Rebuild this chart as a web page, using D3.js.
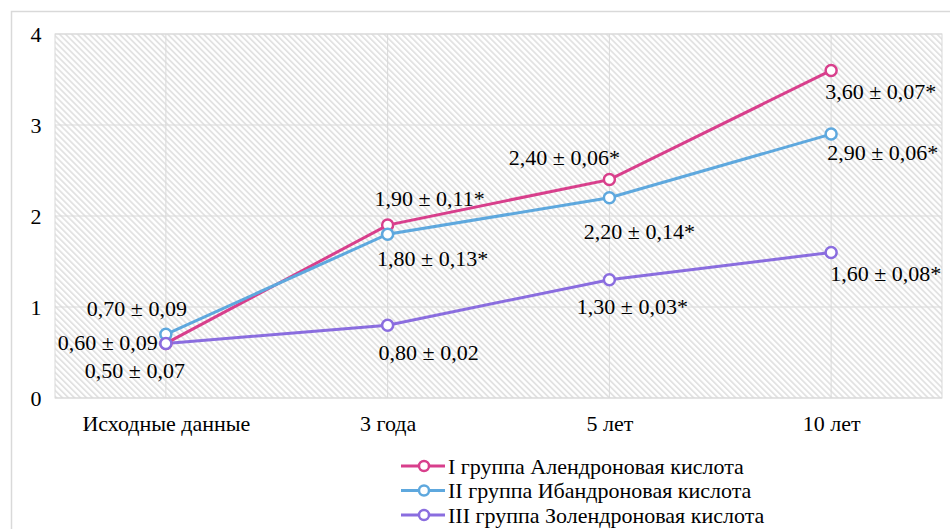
<!DOCTYPE html>
<html><head><meta charset="utf-8">
<script src="https://cdn.jsdelivr.net/npm/d3@7"></script>
<style>body{margin:0;background:#fff}svg{display:block}</style>
</head><body><svg id="c" width="950" height="529"></svg>
<script>
const categories = ["Исходные данные", "3 года", "5 лет", "10 лет"];
const seriesNames = ["I группа Алендроновая кислота", "II группа Ибандроновая кислота", "III группа Золендроновая кислота"];
const seriesI = [0.6, 1.9, 2.4, 3.6];
const seriesII = [0.7, 1.8, 2.2, 2.9];
const seriesIII = [0.6, 0.8, 1.3, 1.6];
const labelsI = ["0,60 ± 0,09", "1,90 ± 0,11*", "2,40 ± 0,06*", "3,60 ± 0,07*"];
const labelsII = ["0,70 ± 0,09", "1,80 ± 0,13*", "2,20 ± 0,14*", "2,90 ± 0,06*"];
const labelsIII = ["0,50 ± 0,07", "0,80 ± 0,02", "1,30 ± 0,03*", "1,60 ± 0,08*"];
const yTicks = [0, 1, 2, 3, 4];

const colors = ["#d83f8c", "#5ea8de", "#8a6ddf"];
// label placement (style): [dx, dy, anchor]
const place = [
  [[-8, -1, "end"], [42, -27, "middle"], [-45, -22, "middle"], [-6, 21, "start"]],
  [[-29, -26, "middle"], [45, 24, "middle"], [30, 34, "middle"], [-4, 18, "start"]],
  [[-31, 27, "middle"], [41, 27, "middle"], [23, 27, "middle"], [-1, 21, "start"]]
];

const svg = d3.select("#c");
const font = "'Liberation Serif','Times New Roman',serif";
const fs = 22;
svg.append("rect").attr("x", 11.5).attr("y", 11.5).attr("width", 950).attr("height", 540)
  .attr("fill", "#fff").attr("stroke", "#d9d9d9").attr("stroke-width", 1.5);

const L = 55, R = 942, T = 34, B = 398;
const x = d3.scalePoint().domain(categories).range([L, R]).padding(0.5);
const y = d3.scaleLinear().domain([0, 4]).range([B, T]);

const defs = svg.append("defs");
const pat = defs.append("pattern").attr("id", "hatch").attr("patternUnits", "userSpaceOnUse")
  .attr("width", 4.25).attr("height", 4.25).attr("patternTransform", "rotate(-45)");
pat.append("rect").attr("width", 4.25).attr("height", 4.25).attr("fill", "#fff");
pat.append("rect").attr("x", 0).attr("width", 1.8).attr("height", 4.25).attr("fill", "#e2e2e2");

svg.append("rect").attr("x", L).attr("y", T).attr("width", R - L).attr("height", B - T)
  .attr("fill", "url(#hatch)").attr("stroke", "#d9d9d9").attr("stroke-width", 1);

// gridlines
svg.append("g").selectAll("line").data(yTicks).join("line")
  .attr("x1", L).attr("x2", R).attr("y1", d => y(d)).attr("y2", d => y(d))
  .attr("stroke", "#d9d9d9").attr("stroke-width", 1);
svg.append("g").selectAll("line").data(categories).join("line")
  .attr("x1", d => x(d)).attr("x2", d => x(d)).attr("y1", T).attr("y2", B)
  .attr("stroke", "#d9d9d9").attr("stroke-width", 1);

// axes
const yAxis = svg.append("g").attr("transform", `translate(${L},0)`)
  .call(d3.axisLeft(y).tickValues(yTicks).tickFormat(d3.format("d")).tickSize(0).tickPadding(19));
yAxis.select(".domain").remove();
yAxis.selectAll("text").attr("font-family", font).attr("font-size", fs).attr("fill", "#000")
  .attr("text-anchor", "middle").attr("dy", null).attr("dominant-baseline", "central");

const xAxis = svg.append("g").attr("transform", `translate(0,${B})`)
  .call(d3.axisBottom(x).tickSize(0).tickPadding(0));
xAxis.select(".domain").remove();
xAxis.selectAll("text").attr("font-family", font).attr("font-size", fs).attr("fill", "#000")
  .attr("dy", null).attr("y", 25).attr("dominant-baseline", "central");

const allSeries = [seriesI, seriesII, seriesIII];
const allLabels = [labelsI, labelsII, labelsIII];
const line = d3.line().x((d, i) => x(categories[i])).y(d => y(d));

allSeries.forEach((s, k) => {
  svg.append("path").datum(s).attr("d", line).attr("fill", "none")
    .attr("stroke", colors[k]).attr("stroke-width", 3);
});
allSeries.forEach((s, k) => {
  svg.append("g").selectAll("circle").data(s).join("circle")
    .attr("cx", (d, i) => x(categories[i])).attr("cy", d => y(d)).attr("r", 5.5)
    .attr("fill", "#fff").attr("stroke", colors[k]).attr("stroke-width", 2.5);
});
allSeries.forEach((s, k) => {
  svg.append("g").selectAll("text").data(s).join("text")
    .attr("x", (d, i) => x(categories[i]) + place[k][i][0])
    .attr("y", (d, i) => y(d) + place[k][i][1])
    .attr("text-anchor", (d, i) => place[k][i][2])
    .attr("dominant-baseline", "central")
    .attr("font-family", font).attr("font-size", fs).attr("fill", "#000")
    .text((d, i) => allLabels[k][i]);
});

// legend
const lg = svg.append("g").attr("transform", "translate(401,466)");
seriesNames.forEach((n, k) => {
  const g = lg.append("g").attr("transform", `translate(0,${k * 24.5})`);
  g.append("line").attr("x1", 0).attr("x2", 44).attr("y1", 0).attr("y2", 0)
    .attr("stroke", colors[k]).attr("stroke-width", 3);
  g.append("circle").attr("cx", 23).attr("cy", 0).attr("r", 5).attr("fill", "#fff")
    .attr("stroke", colors[k]).attr("stroke-width", 2.5);
  g.append("text").attr("x", 47).attr("y", 0).attr("dominant-baseline", "central")
    .attr("font-family", font).attr("font-size", fs).attr("fill", "#000").text(n);
});
</script></body></html>
